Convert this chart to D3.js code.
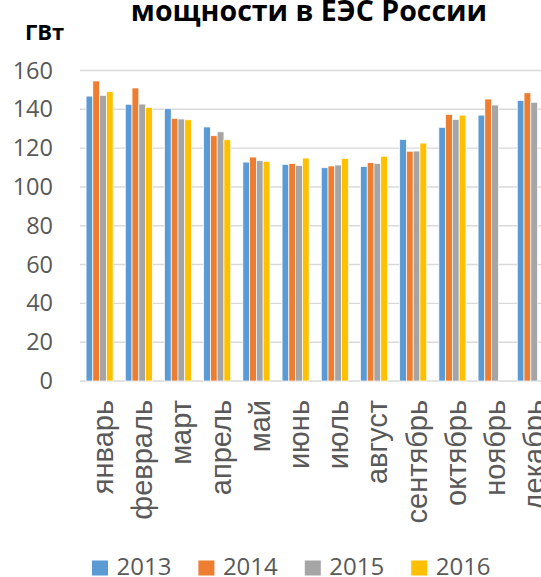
<!DOCTYPE html>
<html>
<head>
<meta charset="utf-8">
<script src="https://cdn.jsdelivr.net/npm/d3@7"></script>
<style>
  html, body { margin: 0; padding: 0; background: #fff; overflow: hidden; }
  svg { display: block; }
</style>
</head>
<body>
<svg id="chart" width="541" height="577"></svg>
<script>
// Monthly peak load in the UES of Russia, GW
const months = ["январь", "февраль", "март", "апрель", "май", "июнь",
                "июль", "август", "сентябрь", "октябрь", "ноябрь", "декабрь"];
const years = ["2013", "2014", "2015", "2016"];
const y2013 = [146.8, 142.6, 140.3, 130.9, 112.8, 111.6, 109.9, 110.6, 124.5, 130.7, 137.0, 144.6];
const y2014 = [154.6, 151.0, 135.3, 126.4, 115.4, 112.0, 110.8, 112.5, 118.4, 137.4, 145.3, 148.5];
const y2015 = [147.2, 142.7, 135.0, 128.4, 113.5, 111.1, 111.3, 112.1, 118.5, 134.8, 142.2, 143.6];
const y2016 = [149.1, 141.0, 134.6, 124.3, 113.2, 114.9, 114.7, 115.8, 122.6, 137.0, null, null];
const yTicks = [0, 20, 40, 60, 80, 100, 120, 140, 160];
const colors = ["#5b9bd5", "#ed7d31", "#a5a5a5", "#ffc000"];

const seriesValues = [y2013, y2014, y2015, y2016];
const rows = months.map((m, i) => ({
  month: m,
  values: years.map((yr, k) => ({ year: yr, value: seriesValues[k][i] }))
}));

const svg = d3.select("#chart");
const plotLeft = 80, plotWidth = 470.4, plotTop = 70.5, plotBottom = 381;

const x0 = d3.scaleBand().domain(months).range([plotLeft, plotLeft + plotWidth])
  .paddingInner(0.31).paddingOuter(0.155);
const x1 = d3.scaleBand().domain(years).range([0, x0.bandwidth()]);
const y = d3.scaleLinear().domain([0, 160]).range([plotBottom, plotTop]);
const color = d3.scaleOrdinal().domain(years).range(colors);

// Gridlines
svg.append("g")
  .selectAll("line").data(yTicks).join("line")
  .attr("x1", plotLeft).attr("x2", plotLeft + plotWidth)
  .attr("y1", d => y(d)).attr("y2", d => y(d))
  .attr("stroke", "#d9d9d9").attr("stroke-width", 1.4);

// Y axis labels
const yAxis = svg.append("g")
  .attr("transform", `translate(${plotLeft - 27},0)`)
  .call(d3.axisLeft(y).tickValues(yTicks).tickSize(0).tickPadding(0));
yAxis.select(".domain").remove();
yAxis.selectAll("text")
  .attr("fill", "#595959")
  .style("font-family", "'Open Sans', sans-serif")
  .style("font-size", "23.5px");

// Bars
svg.append("g")
  .selectAll("g").data(rows).join("g")
  .attr("transform", d => `translate(${x0(d.month)},0)`)
  .selectAll("rect").data(d => d.values.filter(v => v.value != null)).join("rect")
  .attr("x", d => x1(d.year))
  .attr("width", x1.bandwidth())
  .attr("y", d => y(d.value))
  .attr("height", d => y(0) - y(d.value))
  .attr("fill", d => color(d.year))
  .attr("stroke", "#fff").attr("stroke-width", 0.7);

// X axis labels, rotated
const xAxis = svg.append("g")
  .attr("transform", `translate(0,${plotBottom})`)
  .call(d3.axisBottom(x0).tickSize(0).tickPadding(0));
xAxis.select(".domain").remove();
xAxis.selectAll("text")
  .attr("transform", "rotate(-90)")
  .attr("text-anchor", "end")
  .attr("x", -19)
  .attr("y", 0)
  .attr("dy", "0.36em")
  .attr("dx", 0)
  .attr("fill", "#595959")
  .style("font-family", "'Liberation Sans', Arial, sans-serif")
  .style("font-size", "29px");
xAxis.selectAll(".tick").attr("transform", d => `translate(${x0(d) + x0.bandwidth() / 2 + 3},0)`);

// Unit label
svg.append("text")
  .attr("x", 25).attr("y", 40)
  .attr("font-family", "'Open Sans', sans-serif")
  .attr("font-weight", "bold").attr("font-size", 22)
  .attr("fill", "#000")
  .text("ГВт");

// Title
svg.append("text")
  .attr("x", 309).attr("y", 21)
  .attr("text-anchor", "middle")
  .attr("font-family", "'Open Sans', sans-serif")
  .attr("font-weight", "bold").attr("font-size", 28.5)
  .attr("fill", "#000")
  .text("мощности в ЕЭС России");

// Legend
const legend = svg.append("g").selectAll("g").data(years).join("g")
  .attr("transform", (d, i) => `translate(${92 + i * 106.4},0)`);
legend.append("rect")
  .attr("x", 0).attr("y", 560.5).attr("width", 16).attr("height", 15)
  .attr("fill", d => color(d));
legend.append("text")
  .attr("x", 24.5).attr("y", 575)
  .attr("font-family", "'Open Sans', sans-serif")
  .attr("font-size", 24)
  .attr("fill", "#595959")
  .text(d => d);
</script>
</body>
</html>
